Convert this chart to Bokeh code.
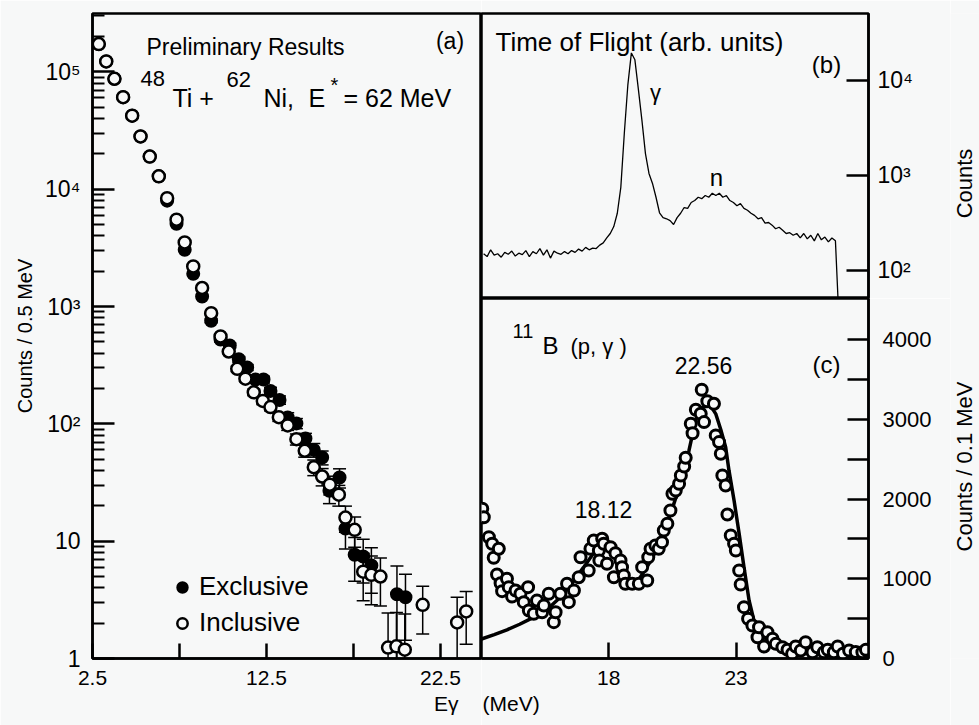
import math
from bokeh.plotting import figure
from bokeh.layouts import row, column
from bokeh.models import (Range1d, FixedTicker, Label, Legend, LegendItem,
                          Whisker, TeeHead, ColumnDataSource, Title)
from bokeh.embed import file_html
from bokeh.resources import INLINE

FONT = "Liberation Sans"
BG = "#f7f8f8"

# ---------------- panel (a): 48Ti + 62Ni gamma spectrum ----------------
inc_e = [2.86, 3.29, 3.76, 4.26, 4.78, 5.26, 5.79, 6.31, 6.79, 7.33, 7.80, 8.29, 8.80,
         9.32, 9.86, 10.33, 10.82, 11.29, 11.77, 12.29, 12.73, 13.21, 13.72, 14.22,
         14.70, 15.22, 15.70, 16.14, 16.66, 17.04, 17.57, 18.06, 18.53, 19.05, 19.49,
         19.97, 20.45, 21.48, 23.46, 23.98]
inc_counts = [173000, 123000, 87500, 61000, 42400, 28200, 19000, 12900, 8400, 5500,
              3520, 2200, 1440, 879, 556, 414, 295, 243, 186, 157, 139, 114, 97, 74,
              59, 42.7, 35.6, 30.3, 24.9, 15.9, 12.5, 5.5, 5.17, 5.0, 1.24, 1.27, 1.19,
              2.87, 2.03, 2.52]
inc_err = [0, 0, 0, 0, 0, 0, 0, 0, 0, 0, 0, 0, 0, 25, 20, 17, 15, 13, 12, 11, 10, 9,
           9, 8, 7, 6.5, 6, 5.5, 5, 4, 3.6, 2.4, 2.3, 2.2, 1.2, 1.2, 1.2, 1.25, 1.3, 1.2]

exc_e = [2.86, 3.29, 3.76, 4.26, 4.78, 5.26, 5.79, 6.31, 6.79, 7.33, 7.80, 8.29, 8.80,
         9.32, 9.86, 10.39, 10.91, 11.39, 11.87, 12.33, 12.73, 13.25, 13.72, 14.22,
         14.74, 15.22, 15.70, 16.12, 16.70, 17.04, 17.57, 18.06, 18.53, 20.00, 20.49]
exc_counts = [173000, 123000, 87500, 61000, 42400, 28200, 19000, 12900, 8000, 5080,
              3050, 1900, 1220, 757, 524, 466, 356, 303, 239, 239, 191, 160, 113.5, 101,
              75, 60, 51.7, 26.9, 34.9, 12.8, 7.66, 7.4, 6.2, 3.53, 3.33]
exc_err = [0, 0, 0, 0, 0, 0, 0, 0, 0, 0, 0, 0, 0, 28, 24, 22, 20, 18, 16, 16, 14, 13,
           11, 10, 8, 8, 7, 6, 6.5, 4.2, 3.1, 3.0, 2.6, 2.6, 1.9]

a_x_ticks = [2.5, 7.5, 12.5, 17.5, 22.5]
a_x_labels = ["2.5", "", "12.5", "", "22.5"]
a_y_ticks = [1, 10, 100, 1000, 10000, 100000]
a_y_labels = ["1", "10", "10\u00b2", "10\u00b3", "10\u2074", "10\u2075"]

# ---------------- panel (b): time of flight ----------------
tof_channel = list(range(102))
tof_counts = [150, 140, 165, 145, 150, 138, 155, 148, 160, 142, 152, 147, 162, 140, 158,
              150, 170, 145, 165, 135, 160, 152, 148, 158, 150, 162, 155, 168, 160, 175,
              165, 172, 170, 185, 195, 220, 245, 290, 400, 750, 2800, 9000, 19500, 16500,
              8000, 3800, 1700, 1050, 825, 590, 405, 360, 350, 335, 305, 360, 400, 460,
              450, 520, 545, 590, 570, 615, 590, 650, 615, 650, 590, 615, 545, 520, 480,
              505, 450, 430, 400, 380, 350, 360, 315, 320, 300, 275, 285, 265, 245, 250,
              235, 245, 220, 245, 215, 235, 205, 245, 210, 225, 200, 220, 205, 30]
b_y_ticks = [100, 1000, 10000]
b_y_labels = ["10\u00b2", "10\u00b3", "10\u2074"]

# ---------------- panel (c): 11B(p,gamma) ----------------
b11_e = [13.03, 13.09, 13.29, 13.42, 13.48, 13.61, 13.68, 13.75, 13.81, 14.00, 14.07,
         14.20, 14.34, 14.53, 14.66, 14.83, 14.86, 15.05, 15.18, 15.38, 15.45, 15.64,
         15.84, 15.91, 16.10, 16.36, 16.43, 16.63, 16.82, 16.89, 17.21, 17.28, 17.41,
         17.61, 17.63, 17.74, 17.80, 17.93, 18.07, 18.20, 18.26, 18.46, 18.52, 18.59,
         18.65, 18.92, 19.18, 19.31, 19.51, 19.55, 19.64, 19.83, 19.96, 20.09, 20.16,
         20.30, 20.42, 20.50, 20.63, 20.76, 20.83, 20.96, 21.02, 21.22, 21.29, 21.42,
         21.61, 21.65, 21.74, 21.87, 22.13, 22.20, 22.33, 22.40, 22.46, 22.59, 22.66,
         22.79, 22.92, 22.99, 23.12, 23.18, 23.31, 23.47, 23.64, 23.84, 23.90, 24.10,
         24.23, 24.43, 24.56, 24.82, 25.02, 25.20, 25.34, 25.54, 25.73, 26.00, 26.19,
         26.45, 26.60, 26.84, 26.99, 27.20, 27.44, 27.70, 27.96, 28.10]
b11_counts = [1879, 1773, 1522, 1439, 1264, 1054, 1377, 945, 845, 1000, 895, 778, 853,
              812, 707, 895, 602, 561, 728, 581, 665, 812, 456, 581, 812, 937, 707, 853,
              1020, 1271, 1104, 1377, 1481, 1355, 1230, 1502, 1439, 1188, 1397, 1020,
              1322, 1230, 1146, 1042, 937, 937, 937, 1146, 979, 1271, 1377, 1418, 1377,
              1460, 1606, 1690, 1857, 2067, 2108, 2192, 2297, 2410, 2519, 2945, 2827,
              3121, 3071, 3372, 2966, 3229, 3196, 2799, 2715, 2569, 2297, 2171, 1807,
              1544, 1439, 1355, 1104, 929, 644, 498, 414, 267, 393, 151, 330, 247, 184,
              142, 109, 60, 151, 100, 205, 79, 142, 79, 110, 79, 151, 60, 100, 80, 79,
              110]
fit_e = [13.0, 13.5, 14.0, 14.5, 15.0, 15.3, 15.6, 16.0, 16.5, 17.0, 17.4, 17.8, 18.1,
         18.5, 18.9, 19.2, 19.6, 20.0, 20.43, 20.83, 21.15, 21.42, 21.68, 22.0, 22.2,
         22.4, 22.59, 22.72, 22.92, 23.12, 23.31, 23.51, 23.70, 23.97, 24.36, 24.88, 25.3]
fit_counts = [245, 300, 360, 430, 510, 560, 620, 740, 920, 1140, 1320, 1400, 1340, 1120,
              970, 1000, 1200, 1440, 1816, 2213, 2610, 3008, 3154, 3170, 3070, 2870, 2652,
              2360, 1983, 1565, 1146, 728, 477, 310, 184, 100, 50]
c_x_ticks = [18, 23]
c_y_ticks = [0, 500, 1000, 1500, 2000, 2500, 3000, 3500, 4000]
c_y_labels = ["0", "", "1000", "", "2000", "", "3000", "", "4000"]


def base_fig(outline="black", **kw):
    p = figure(toolbar_location=None, output_backend="svg", title=None,
               background_fill_color=BG, border_fill_color=BG,
               outline_line_color=outline, outline_line_width=2.5, **kw)
    p.grid.visible = False
    return p


def style_axis(ax, tick_in, standoff, size="22px"):
    ax.axis_line_color = "black"
    ax.axis_line_width = 2.5
    ax.major_tick_in = tick_in
    ax.major_tick_out = 0
    ax.major_tick_line_width = 2.5
    ax.major_tick_line_color = "black"
    ax.minor_tick_in = 0
    ax.minor_tick_out = 0
    ax.major_label_text_font = FONT
    ax.major_label_text_font_size = size
    ax.major_label_text_color = "black"
    ax.major_label_standoff = standoff
    ax.axis_label_text_font = FONT
    ax.axis_label_text_font_style = "normal"
    ax.axis_label_text_color = "black"


def txt(p, x, y, s, size, align="left", baseline="alphabetic", angle=0):
    p.add_layout(Label(x=x, y=y, x_units="screen", y_units="screen", text=s,
                       text_font=FONT, text_font_size=f"{size}px", text_align=align,
                       text_baseline=baseline, text_color="black", angle=angle))


def bottom_title(p, s, align, offset):
    p.add_layout(Title(text=s, align=align, offset=offset, standoff=5,
                       text_font=FONT, text_font_size="21px", text_font_style="normal",
                       text_color="black"), "below")


# ======== panel (a) ========
pa = base_fig(width=481, height=725, min_border_left=92, min_border_right=0,
              min_border_top=13, min_border_bottom=67,
              x_range=Range1d(2.5, 24.86), y_range=Range1d(1, 3.15e5), y_axis_type="log")

xa = pa.xaxis[0]
style_axis(xa, 15, 12, "21px")
xa.ticker = FixedTicker(ticks=a_x_ticks)
xa.major_label_overrides = {t: l for t, l in zip(a_x_ticks, a_x_labels)}

ya = pa.yaxis[0]
style_axis(ya, 22, 12, "23px")
minor = [m * 10 ** k for k in range(0, 6) for m in range(2, 10)]
ya.ticker = FixedTicker(ticks=a_y_ticks, minor_ticks=minor)
ya.major_label_overrides = {float(t): l for t, l in zip(a_y_ticks, a_y_labels)}
ya.minor_tick_in = 12
ya.minor_tick_line_width = 2
ya.minor_tick_line_color = "black"
ya.axis_label = "Counts / 0.5 MeV"
ya.axis_label_text_font_size = "20px"
ya.axis_label_standoff = 6


def err_source(xs, ys, es):
    sel = [(x, y, e) for x, y, e in zip(xs, ys, es) if e > 0]
    return ColumnDataSource(dict(x=[s[0] for s in sel],
                                 up=[s[1] + s[2] for s in sel],
                                 lo=[max(s[1] - s[2], 0.6) for s in sel]))


for xs, ys, es in ((exc_e, exc_counts, exc_err), (inc_e, inc_counts, inc_err)):
    w = Whisker(source=err_source(xs, ys, es), base="x", upper="up", lower="lo",
                line_color="black", line_width=1.5, level="underlay",
                upper_head=TeeHead(size=13, line_width=1.5, line_color="black"),
                lower_head=TeeHead(size=13, line_width=1.5, line_color="black"))
    pa.add_layout(w)

r_exc = pa.scatter(exc_e, exc_counts, size=12, marker="circle", fill_color="black",
                   line_color="black", line_width=2)
r_inc = pa.scatter(inc_e, inc_counts, size=12, marker="circle", fill_color=BG,
                   line_color="black", line_width=2.5)

leg = Legend(items=[LegendItem(label="Exclusive", renderers=[r_exc]),
                    LegendItem(label="Inclusive", renderers=[r_inc])],
             location=(77, 20), orientation="vertical",
             background_fill_alpha=0, border_line_alpha=0, padding=0, margin=0,
             spacing=5, glyph_height=30, glyph_width=26, label_height=30,
             label_standoff=4, label_text_font=FONT, label_text_font_size="26px",
             label_text_color="black")
pa.add_layout(leg)

txt(pa, 54, 611.5, "Preliminary Results", 23)
txt(pa, 357.5, 618, "(a)", 23, align="center", baseline="middle")
txt(pa, 48, 580, "48", 22)
txt(pa, 80, 561, "Ti +", 25)
txt(pa, 134, 579, "62", 22)
txt(pa, 171, 561, "Ni,", 25)
txt(pa, 216, 561, "E", 25)
txt(pa, 238, 574, "*", 20)
txt(pa, 251, 561, "= 62 MeV", 25)
bottom_title(pa, "E\u03b3", "right", 23)

# ======== panel (b) ========
pb = base_fig(width=469, height=298, min_border_left=0, min_border_right=82,
              min_border_top=13, min_border_bottom=0,
              x_range=Range1d(-0.6, 109.4), y_range=Range1d(50.7, 50700),
              y_axis_type="log", y_axis_location="right", x_axis_location=None)
yb = pb.yaxis[0]
style_axis(yb, 22, 9, "23px")
yb.ticker = FixedTicker(ticks=b_y_ticks, minor_ticks=[])
yb.major_label_overrides = {float(t): l for t, l in zip(b_y_ticks, b_y_labels)}

pb.line(tof_channel, tof_counts, line_color="black", line_width=1.3)
txt(pb, 14, 256.5, "Time of Flight (arb. units)", 26)
txt(pb, 345, 234, "(b)", 24, align="center", baseline="middle")
txt(pb, 174, 206, "\u03b3", 22, align="center", baseline="middle")
txt(pb, 235, 121, "n", 24, align="center", baseline="middle")

# ======== panel (c) ========
pc = base_fig(width=469, height=427, min_border_left=0, min_border_right=82,
              min_border_top=0, min_border_bottom=67,
              x_range=Range1d(13.0, 28.2), y_range=Range1d(0, 4517),
              y_axis_location="right")
xc = pc.xaxis[0]
style_axis(xc, 16, 12, "21px")
xc.ticker = FixedTicker(ticks=c_x_ticks)
yc = pc.yaxis[0]
style_axis(yc, 21, 14)
yc.ticker = FixedTicker(ticks=c_y_ticks)
yc.major_label_overrides = {t: l for t, l in zip(c_y_ticks, c_y_labels)}

pc.line(fit_e, fit_counts, line_color="black", line_width=3.5)
pc.scatter(b11_e, b11_counts, size=11, marker="circle", fill_color=BG,
           line_color="black", line_width=3)

txt(pc, 31, 328, "11", 20)
txt(pc, 61, 313, "B", 24)
txt(pc, 89, 312, "(p, \u03b3 )", 22)
txt(pc, 222, 293, "22.56", 23, align="center", baseline="middle")
txt(pc, 122, 149, "18.12", 23, align="center", baseline="middle")
txt(pc, 345, 294, "(c)", 24, align="center", baseline="middle")
bottom_title(pc, "(MeV)", "left", 1)

# ======== strip holding the right-hand axis titles ========
# (its frame is aligned by the row layout with panel (a): bottom edge at y=658)
ps = base_fig(outline=None, width=29, height=725, min_border=0,
              x_range=Range1d(0, 1), y_range=Range1d(0, 1),
              x_axis_location=None, y_axis_location=None)
txt(ps, 14, 475, "Counts", 22, align="center", baseline="middle", angle=math.pi / 2)
txt(ps, 14, 192, "Counts / 0.1 MeV", 22, align="center", baseline="middle",
    angle=math.pi / 2)

layout = row(pa, column(pb, pc), ps)
open("out.html", "w").write(file_html(layout, INLINE))
